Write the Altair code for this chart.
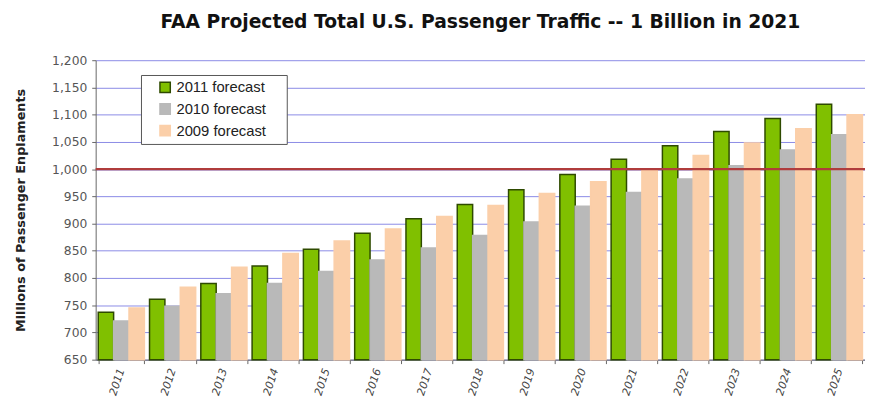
import altair as alt
import pandas as pd

years = [str(y) for y in range(2011, 2026)]
f2011 = [737, 761, 790, 822, 853, 882, 909, 935, 962, 990, 1018, 1043, 1069, 1093, 1119]
f2010 = [721, 748, 771, 790, 812, 833, 855, 878, 903, 932, 957, 982, 1006, 1035, 1063]
f2009 = [745, 783, 820, 845, 868, 890, 913, 933, 955, 977, 1000, 1025, 1048, 1074, 1100]
series = ["2011 forecast", "2010 forecast", "2009 forecast"]
colors = ["#80c000", "#b9b9b9", "#fbcfa9"]
strokes = ["#2e4a00", "#b9b9b9", "#fbcfa9"]
y_ticks = list(range(650, 1201, 50))
y_base = 650
target = [1000]

rows = []
for i, y in enumerate(years):
    for s, vals in zip(series, [f2011, f2010, f2009]):
        rows.append({"year": y, "series": s, "value": vals[i]})
df = pd.DataFrame(rows)

font = "DejaVu Sans"

bars = alt.Chart(df).mark_bar(strokeWidth=1.5).encode(
    x=alt.X("year:N", sort=years, title=None,
            scale=alt.Scale(paddingInner=0.1, paddingOuter=0.05),
            axis=alt.Axis(labelAngle=-72, labelAlign="right", labelBaseline="middle",
                          labelFontStyle="italic", labelFontSize=11, labelColor="#444",
                          labelFont=font, tickBand="extent", tickColor="#666",
                          domainColor="#666", tickSize=4, labelPadding=5)),
    xOffset=alt.XOffset("series:N", sort=series,
                        scale=alt.Scale(paddingInner=0, paddingOuter=0)),
    y=alt.Y("value:Q", title="Millions of Passenger Enplaments",
            scale=alt.Scale(domain=[650, 1200], nice=False, zero=False),
            axis=alt.Axis(values=y_ticks, tickCount=len(y_ticks), format=",d",
                          labelOverlap=False,
                          labelFontSize=12.5, labelColor="#555",
                          labelFont=font, titleFont=font, titleFontSize=13,
                          titleFontWeight="bold", titleColor="#222", titlePadding=24,
                          labelPadding=5,
                          gridColor="#8a8ae6", gridWidth=1, domainColor="#666",
                          tickColor="#666", tickSize=4)),
    y2=alt.datum(y_base),
    fill=alt.Fill("series:N", sort=series, title="___",
                  scale=alt.Scale(domain=series, range=colors),
                  legend=alt.Legend(orient="none", legendX=46, legendY=15,
                                    labelFont="Liberation Sans Narrow, Arial Narrow, Liberation Sans",
                                    labelFontSize=15, labelColor="#222",
                                    titleOrient="right", titleColor="white",
                                    titleFontSize=9, titlePadding=0,
                                    symbolType="square", symbolSize=110,
                                    symbolStrokeWidth=1.5, symbolOffset=12,
                                    strokeColor="#555", fillColor="white",
                                    padding=5, rowPadding=5, labelOffset=4)),
    stroke=alt.Stroke("series:N", sort=series, title="___",
                      scale=alt.Scale(domain=series, range=strokes), legend=None),
)

rule = alt.Chart(pd.DataFrame({"v": target})).mark_rule(
    color="#b03c3c", strokeWidth=2.5).encode(y="v:Q")

chart = alt.layer(bars, rule).properties(
    width=781, height=304,
    title=alt.Title("FAA Projected Total U.S. Passenger Traffic -- 1 Billion in 2021",
                    font=font, fontSize=19, fontWeight="bold", color="#111", offset=23),
    autosize=alt.AutoSizeParams(type="none"),
    padding={"left": 89, "top": 50, "right": 0, "bottom": 43},
).configure_view(stroke=None).configure_axis(grid=True).configure_axisX(grid=False)

chart.save("out.html", embed_options={"renderer": "svg", "actions": False})
